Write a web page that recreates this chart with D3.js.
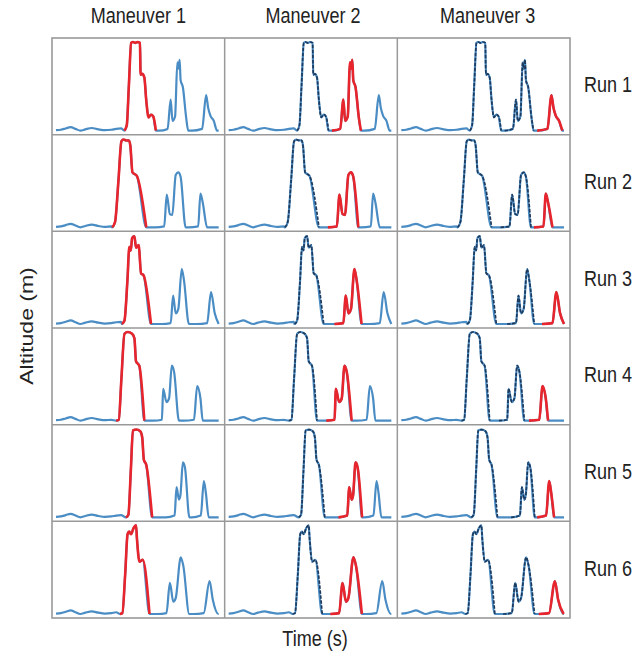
<!DOCTYPE html>
<html lang="en">
<head>
<meta charset="utf-8">
<script src="https://d3js.org/d3.v7.min.js"></script>
<style>
  body { margin: 0; background: #fff; }
  .lbl { font-family: "Liberation Sans", Arial, sans-serif; font-size: 22px; fill: #222; }
</style>
</head>
<body>
<svg width="642" height="656"></svg>
<script>
// labels
const maneuvers = ['Maneuver 1', 'Maneuver 2', 'Maneuver 3'];
const runs = ['Run 1', 'Run 2', 'Run 3', 'Run 4', 'Run 5', 'Run 6'];

// [time %, altitude %]; ground wiggle is shared
const baseline = [[0,0.5],[3,1],[6,2.5],[9,4],[12,2],[15,0],[18,1.5],[22,3],[26,1.5],[30,0.5],[34,1],[37,2],[40,2.5],[43,1]];

const run1 = [
  [[42,0],[43.5,6],[44.8,51],[46.2,99],[47.3,100],[48.8,99],[50,100],[51.6,99],[52,63],[53,64],[54.3,60],[55.5,34],[56.9,15],[58.4,18],[59.8,16],[61.4,0]],
  [[63.5,0],[68.6,2],[70.5,35],[71.6,11],[73.2,16],[74.6,77],[75.3,70],[76,80],[76.6,57],[78,49],[80,15],[81.3,0]],
  [[83.5,0],[89.8,2],[92.3,40],[93.5,26],[94.9,17],[97,11],[99,0]]
];
const run2 = [
  [[34.5,0],[36.3,6],[38.4,53],[40.2,97],[41.5,99],[43.3,98],[44.8,98],[45.7,92],[47,62],[49.7,58],[55.5,0]],
  [[61,0],[66.5,1],[68.1,37],[70,15],[71.5,14],[73.6,59],[75.2,62],[76.6,57],[79.7,0]],
  [[81.5,0],[87.4,1],[88.8,38],[90.2,28],[92.9,0]]
];
const run3 = [
  [[40.5,0],[42.1,4],[43.9,49],[45.1,87],[46,83],[46.8,97],[48.2,99],[49.2,86],[50.8,89],[52.3,57],[53.8,55],[58.4,0]],
  [[65,0],[70.5,1],[72,32],[73.6,12],[75.2,17],[77.3,62],[78.7,49],[81.7,0]],
  [[86.5,0],[92.9,1],[95.3,36],[97.6,12],[100,0]]
];
const run4 = [
  [[37,0],[38.6,1],[40.2,47],[42.1,98],[44.1,100],[46.8,98],[48.2,93],[49.2,67],[51.2,62],[54.3,0]],
  [[60,0],[65.1,1],[65.9,36],[67.9,21],[69.5,25],[71.2,62],[72.6,55],[75.6,0]],
  [[78.5,0],[84.8,1],[86.8,39],[88.8,25],[90.2,0]]
];
const run5 = [
  [[43,0],[44.5,3],[46,53],[47.3,98],[49.4,99],[51.8,97],[53,90],[54,65],[55.5,59],[59.1,0]],
  [[67.5,0],[72.9,2],[74.1,34],[75.6,20],[76.5,25],[78,62],[79.3,56],[82,0]],
  [[83.5,0],[89,2],[90.9,41],[92.1,28],[93.9,0]]
];
const run6 = [
  [[39.3,0],[40.8,1],[42.5,44],[44,90],[45,93],[46.1,90],[47.7,97],[49.2,100],[49.8,84],[51.3,59],[53.3,61],[57.5,0]],
  [[62.5,0],[67.9,1],[70,35],[72.1,14],[73.6,18],[76.7,64],[78.3,54],[81.9,0]],
  [[84.5,0],[90.8,1],[94.4,37],[96.4,16],[99.8,0]]
];
const runData = [run1, run2, run3, run4, run5, run6];

const svg = d3.select('svg');
const colX = d3.scaleBand().domain(maneuvers).range([52, 570]);
const rowY = d3.scaleBand().domain(runs).range([38, 618]);
const bw = colX.bandwidth(), bh = rowY.bandwidth();

function fullSeries(run) {
  const pts = baseline.filter(p => p[0] < run[0][0][0]);
  run.forEach(m => pts.push(...m));
  if (pts[pts.length - 1][0] < 100) pts.push([100, 0]);
  return pts;
}

runs.forEach((rn, ri) => {
  const run = runData[ri];
  const series = fullSeries(run);
  maneuvers.forEach((mn, ci) => {
    const x0 = colX(mn), y0 = rowY(rn);
    const xs = d3.scaleLinear().domain([0, 100]).range([x0 + 4, x0 + bw - 6]);
    const ys = d3.scaleLinear().domain([0, 100]).range([y0 + bh - 4, y0 + 4]);
    const line = d3.line().x(d => xs(d[0])).y(d => ys(d[1])).curve(d3.curveMonotoneX);
    const g = svg.append('g');

    g.append('path').attr('d', line(series))
      .attr('fill', 'none').attr('stroke', '#4a8cc4').attr('stroke-width', 2.2);
    // maneuvers already flown: dark dashed trace
    for (let k = 0; k < ci; k++) {
      g.append('path').attr('d', line(run[k]))
        .attr('fill', 'none').attr('stroke', '#1e3a5c').attr('stroke-width', 1.7)
        .attr('stroke-dasharray', '3.5 1.5');
    }
    g.append('path').attr('d', line(run[ci]))
      .attr('fill', 'none').attr('stroke', '#e8242c').attr('stroke-width', 2.6);
  });
});

// panel grid
colX.domain().slice(1).forEach(d => {
  svg.append('line').attr('x1', colX(d)).attr('x2', colX(d)).attr('y1', 38).attr('y2', 618)
    .attr('stroke', '#999').attr('stroke-width', 1.5);
});
rowY.domain().slice(1).forEach(d => {
  svg.append('line').attr('x1', 52).attr('x2', 570).attr('y1', rowY(d)).attr('y2', rowY(d))
    .attr('stroke', '#999').attr('stroke-width', 1.5);
});
svg.append('rect').attr('x', 52).attr('y', 38).attr('width', 518).attr('height', 580)
  .attr('fill', 'none').attr('stroke', '#999').attr('stroke-width', 1.6);

// text
maneuvers.forEach((d, i) => {
  svg.append('text').attr('class', 'lbl').attr('text-anchor', 'middle')
    .attr('transform', `translate(${colX(d) + bw / 2 + i * 2},23) scale(0.82,1)`).text(d);
});
runs.forEach(d => {
  svg.append('text').attr('class', 'lbl')
    .attr('transform', `translate(584,${rowY(d) + bh / 2 + 6}) scale(0.82,1)`).text(d);
});
svg.append('text').attr('class', 'lbl').attr('text-anchor', 'middle')
  .attr('transform', 'translate(315,646) scale(0.82,1)').text('Time (s)');
svg.append('text').attr('class', 'lbl').attr('text-anchor', 'middle')
  .style('font-size', '23px')
  .attr('transform', 'translate(33,326) scale(0.82,1) rotate(-90)').text('Altitude (m)');
</script>
</body>
</html>
